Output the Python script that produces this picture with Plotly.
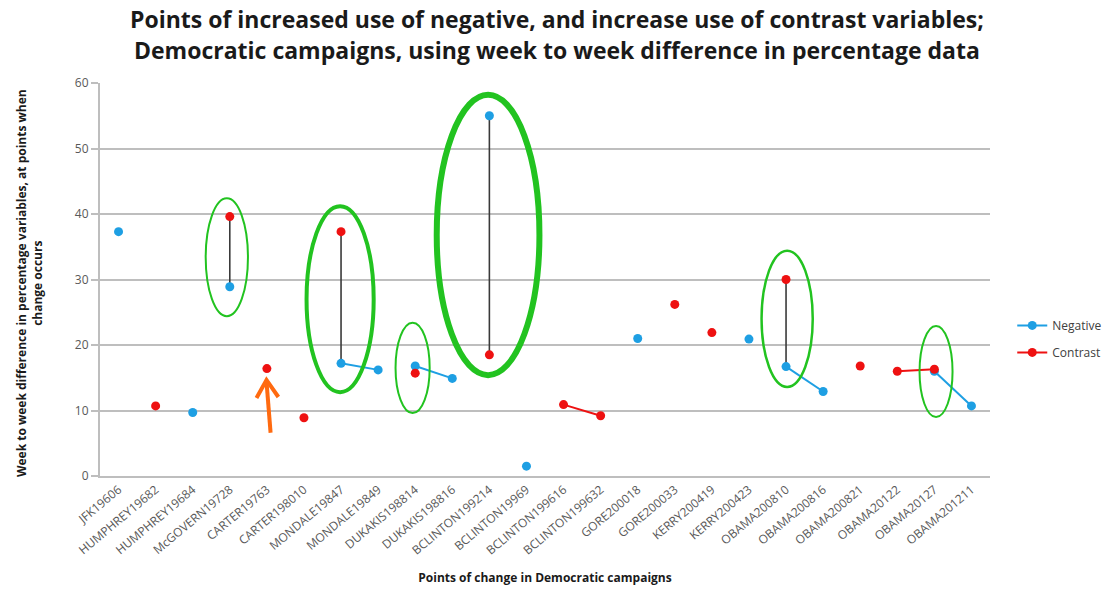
import plotly.graph_objects as go

# Points of change (week-to-week difference, %)
categories = [
    "JFK19606", "HUMPHREY19682", "HUMPHREY19684", "McGOVERN19728", "CARTER19763",
    "CARTER198010", "MONDALE19847", "MONDALE19849", "DUKAKIS198814", "DUKAKIS198816",
    "BCLINTON199214", "BCLINTON19969", "BCLINTON199616", "BCLINTON199632", "GORE200018",
    "GORE200033", "KERRY200419", "KERRY200423", "OBAMA200810", "OBAMA200816",
    "OBAMA200821", "OBAMA20122", "OBAMA20127", "OBAMA201211",
]
# Campaign each point belongs to (lines only join points within one campaign)
campaigns = [
    "JFK1960", "HUMPHREY1968", "HUMPHREY1968", "McGOVERN1972", "CARTER1976",
    "CARTER1980", "MONDALE1984", "MONDALE1984", "DUKAKIS1988", "DUKAKIS1988",
    "BCLINTON1992", "BCLINTON1996", "BCLINTON1996", "BCLINTON1996", "GORE2000",
    "GORE2000", "KERRY2004", "KERRY2004", "OBAMA2008", "OBAMA2008",
    "OBAMA2008", "OBAMA2012", "OBAMA2012", "OBAMA2012",
]
negative = [37.3, None, 9.7, 28.9, None, None, 17.2, 16.2, 16.8, 14.9,
            55.0, 1.5, None, None, 21.0, None, None, 20.9, 16.7, 12.9,
            None, None, 16.0, 10.7]
contrast = [None, 10.7, None, 39.6, 16.4, 8.9, 37.3, None, 15.7, None,
            18.5, None, 10.9, 9.2, None, 26.2, 21.9, None, 30.0, None,
            16.8, 16.0, 16.3, None]

BLUE = "#1E9FE3"
RED = "#EE1111"
GREEN = "#22C320"
ORANGE = "#FF6A10"
GRID = "#BEBEBE"
FONT = "Open Sans, Lato, sans-serif"

fig = go.Figure()

# High-low lines joining the two series where both have a value
hl_x, hl_y = [], []
for c, n, k in zip(categories, negative, contrast):
    if n is not None and k is not None:
        hl_x += [c, c, None]
        hl_y += [min(n, k), max(n, k), None]
fig.add_trace(go.Scatter(x=hl_x, y=hl_y, mode="lines",
                         line=dict(color="#3A3A3A", width=1.6),
                         showlegend=False, hoverinfo="skip"))


def add_series(values, name, color, group):
    """One trace per campaign so lines never cross campaign boundaries."""
    order = []
    for camp in campaigns:
        if camp not in order:
            order.append(camp)
    first = True
    for camp in order:
        xx, yy = [], []
        for c, cp, v in zip(categories, campaigns, values):
            if cp == camp:
                xx.append(c)
                yy.append(v)
        if all(v is None for v in yy):
            continue
        fig.add_trace(go.Scatter(x=xx, y=yy, name=name, mode="lines+markers",
                                 connectgaps=False,
                                 line=dict(color=color, width=2),
                                 marker=dict(color=color, size=9),
                                 legendgroup=group, showlegend=first))
        first = False


add_series(negative, "Negative", BLUE, "neg")
add_series(contrast, "Contrast", RED, "con")

# Highlight ellipses: (x0, x1, y0, y1, line width) in category-index / value units
ellipses = [
    (2.35, 3.49, 24.4, 42.4, 2),
    (5.07, 6.88, 12.8, 41.2, 4),
    (7.47, 8.39, 9.6, 23.4, 2),
    (8.58, 11.35, 15.4, 58.2, 6),
    (17.34, 18.72, 13.6, 34.4, 2.5),
    (21.6, 22.49, 9.0, 22.9, 2),
]
shapes = []
for x0, x1, y0, y1, w in ellipses:
    shapes.append(dict(type="circle", xref="x", yref="y", x0=x0, x1=x1, y0=y0, y1=y1,
                       line=dict(color=GREEN, width=w)))

# Orange arrow pointing at the CARTER19763 contrast point
shapes.append(dict(type="line", xref="x", yref="y", x0=4.10, y0=6.6, x1=3.99, y1=14.4,
                   line=dict(color=ORANGE, width=4)))
shapes.append(dict(type="path", xref="x", yref="y",
                   path="M 3.72 11.9 L 3.99 14.66 L 4.31 12.06",
                   line=dict(color=ORANGE, width=4)))

fig.update_layout(
    width=1107, height=596,
    margin=dict(l=100, r=117, t=83, b=120, autoexpand=False),
    paper_bgcolor="white", plot_bgcolor="white",
    font=dict(family=FONT, color="#404040"),
    shapes=shapes,
    legend=dict(x=1.025, xanchor="left", y=0.42, yanchor="top",
                font=dict(size=12, color="#404040"), tracegroupgap=8,
                bgcolor="rgba(0,0,0,0)"),
    showlegend=True,
)

# Two-line chart title
title_lines = [
    "Points of increased use of negative, and increase use of contrast variables;",
    "Democratic campaigns, using week to week difference in percentage data",
]
for line, ypos in zip(title_lines, [1.1628, 1.084]):
    fig.add_annotation(text=line, xref="paper", yref="paper", x=0.513, y=ypos,
                       xanchor="center", yanchor="middle", showarrow=False,
                       font=dict(family=FONT, size=23, color="#1A1A1A", weight="bold"))

fig.update_xaxes(
    type="category", categoryorder="array", categoryarray=categories,
    tickangle=-40, tickfont=dict(size=12, color="#595959"),
    showgrid=False, showline=True, linecolor=GRID, linewidth=2, ticks="",
    range=[-0.5, len(categories) - 0.5],
    title=dict(text="Points of change in Democratic campaigns",
               font=dict(size=12, color="#1A1A1A", weight="bold"), standoff=16),
)
fig.update_yaxes(
    range=[0, 60], dtick=10, tick0=0,
    showgrid=True, gridcolor=GRID, gridwidth=2,
    showline=True, linecolor=GRID, linewidth=2,
    ticks="outside", ticklen=7, tickcolor=GRID, tickwidth=2,
    tickfont=dict(size=12, color="#595959"),
    zeroline=False,
)

fig.add_annotation(
    text="Week to week difference in percentage variables, at points when<br>change occurs",
    xref="paper", yref="paper", x=-0.079, y=0.49, xanchor="center", yanchor="middle",
    textangle=-90, showarrow=False,
    font=dict(family=FONT, size=12, color="#1A1A1A", weight="bold"),
)

fig.write_html("out.html")
